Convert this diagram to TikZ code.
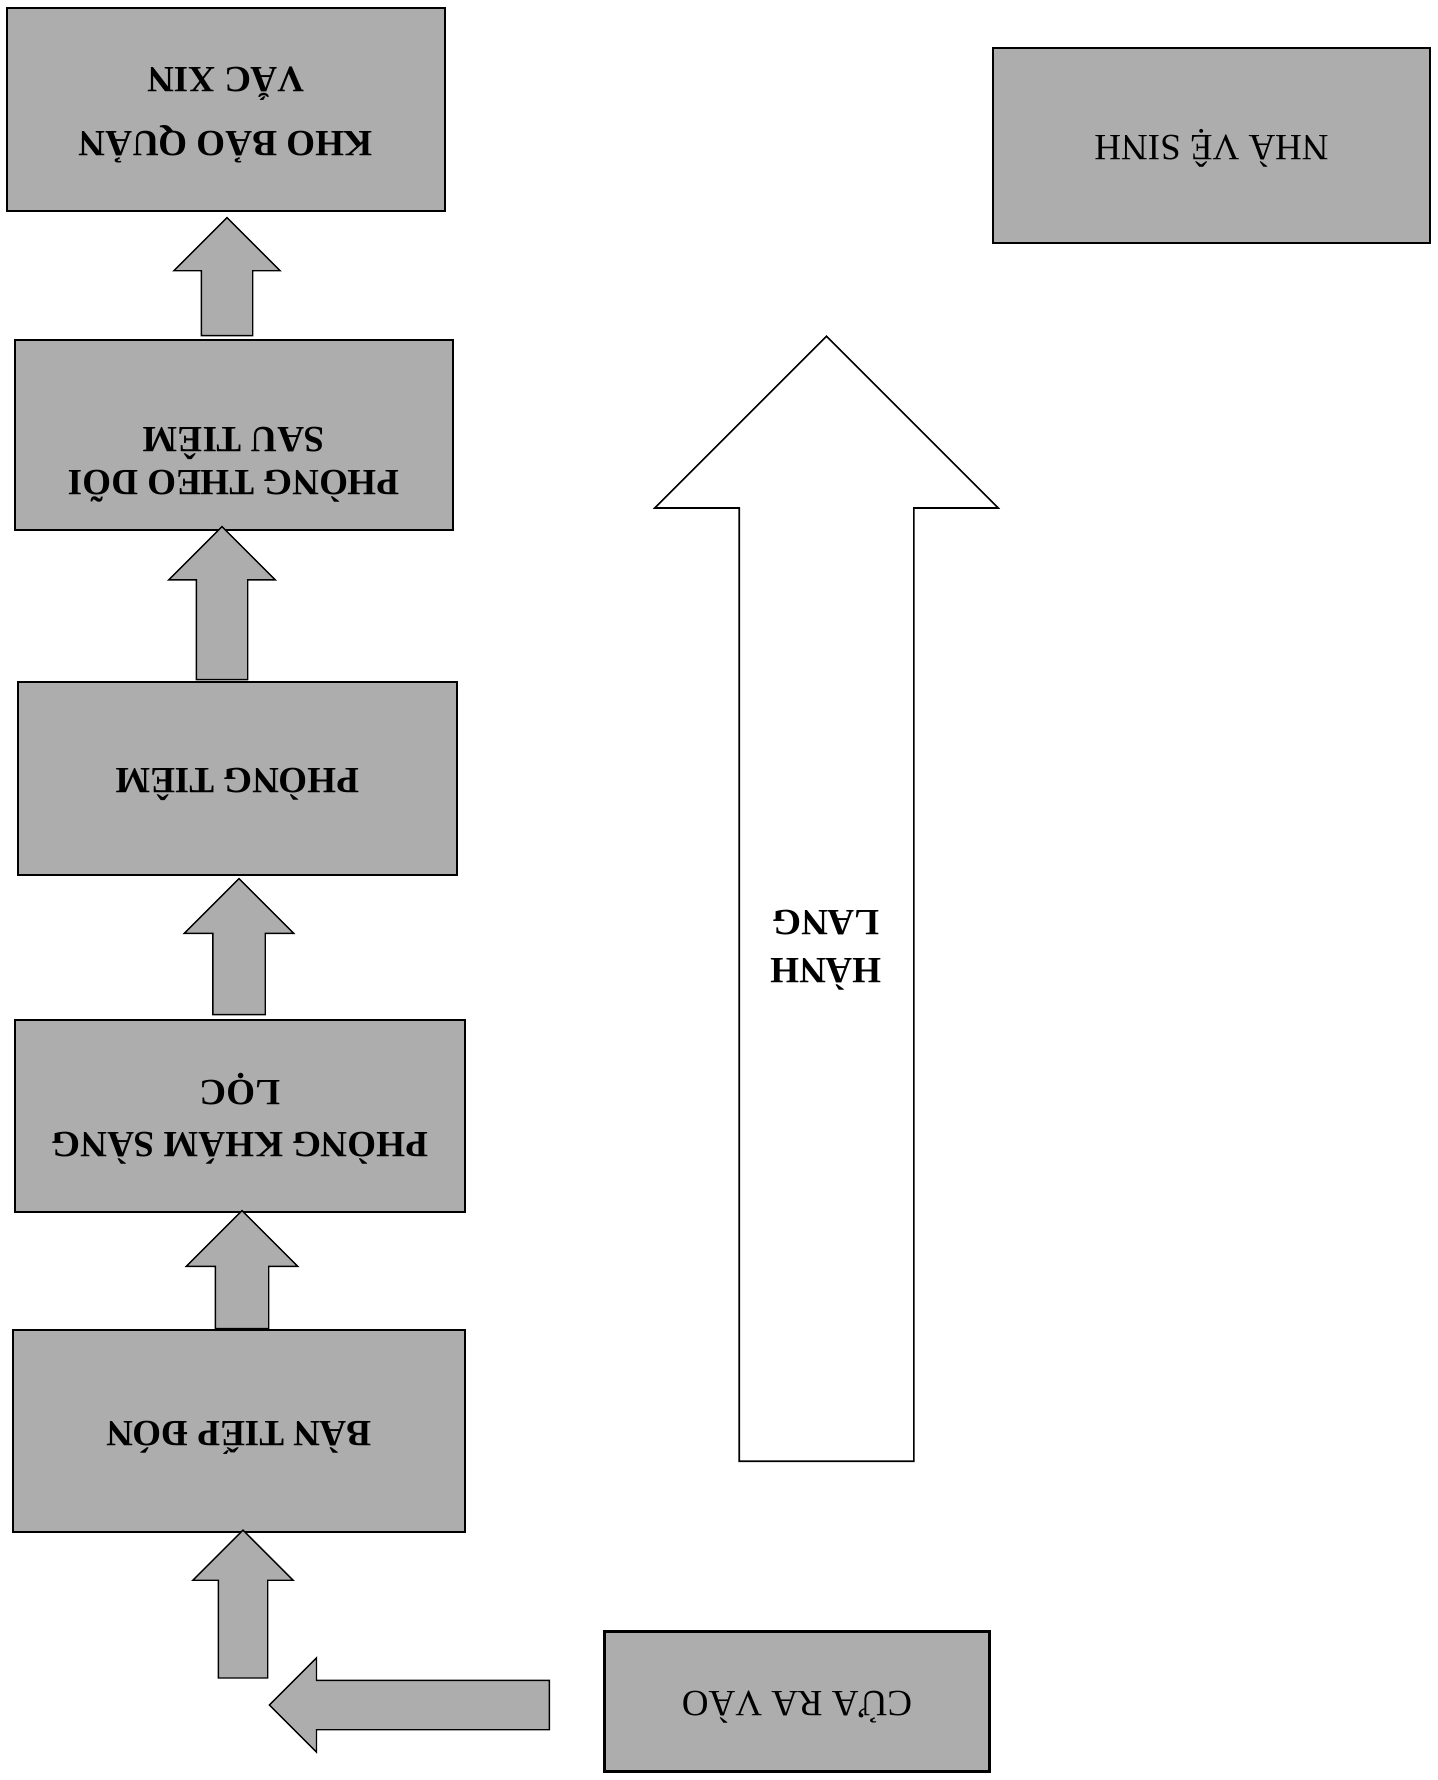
\documentclass[tikz,border=0pt]{standalone}
\usepackage{fontspec}
\setmainfont{Liberation Serif}
\usepackage{tikz}
\usetikzlibrary{shapes.arrows,calc}

% the whole plan is printed upside down
\newcommand{\flip}[1]{\rotatebox{180}{\begin{tabular}{@{}c@{}}#1\end{tabular}}}

\tikzset{
    room/.style={draw, line width=0.7pt, fill=black!32, inner sep=0pt,
        font=\bfseries\fontsize{18.5}{24}\selectfont},
    flow/.style={single arrow, draw, line width=0.7pt, fill=black!32, inner xsep=0pt,
        single arrow tip angle=90, anchor=tail},
}

\begin{document}
\begin{tikzpicture}[x=0.5pt, y=-0.5pt]
    \useasboundingbox (0,0) rectangle (1437,1780);

    % First, locate each of the rooms and name them
    \node [room, minimum width=219pt, minimum height=101.5pt] (kho) at (226,109.5)
        {\flip{KHO BẢO QUẢN\\[8pt] VẮC XIN}};
    \node [room, minimum width=219pt, minimum height=95pt] (theodoi) at (234,435)
        {\flip{PHÒNG THEO DÕI\\[-2.5pt] SAU TIÊM\\ ~}};
    \node [room, minimum width=219.5pt, minimum height=96.5pt] (tiem) at (237.5,778.5)
        {\flip{PHÒNG TIÊM}};
    \node [room, minimum width=225pt, minimum height=96pt] (khamsang) at (240,1116)
        {\flip{PHÒNG KHÁM SÀNG\\[2pt] LỌC}};
    \node [room, minimum width=226pt, minimum height=101pt] (tiepdon) at (239,1431)
        {\flip{BÀN TIẾP ĐÓN}};
    \node [room, font=\fontsize{18.5}{24}\selectfont, minimum width=218.5pt, minimum height=97.5pt] (vesinh) at (1211.5,145.5)
        {\flip{NHÀ VỆ SINH}};
    \node [room, line width=1.5pt, font=\fontsize{18.5}{24}\selectfont, minimum width=192.5pt, minimum height=70pt] (cuara) at (797,1701)
        {\flip{CỬA RA VÀO}};

    % Now the arrows between the rooms, each one set by its tail
    \node [flow, rotate=180, minimum height=140pt, minimum width=46.5pt, inner ysep=12pt,
        single arrow head extend=11.25pt] (a6) at ($(cuara.west)+(-53,4)$) {};
    \node [flow, rotate=90, minimum height=74pt, minimum width=49.5pt, inner ysep=12pt,
        single arrow head extend=12.75pt] (a5) at ($(tiepdon.south)+(4,146)$) {};
    \node [flow, rotate=90, minimum height=59pt, minimum width=55pt, inner ysep=13pt,
        single arrow head extend=14.5pt] (a4) at ($(tiepdon.north)+(3,0)$) {};
    \node [flow, rotate=90, minimum height=68pt, minimum width=54pt, inner ysep=12.75pt,
        single arrow head extend=14.25pt] (a3) at ($(khamsang.north)+(-1,-4)$) {};
    \node [flow, rotate=90, minimum height=76.5pt, minimum width=52.5pt, inner ysep=12.5pt,
        single arrow head extend=13.75pt] (a2) at ($(tiem.north)+(-15.5,-1)$) {};
    \node [flow, rotate=90, minimum height=59pt, minimum width=52.5pt, inner ysep=12.5pt,
        single arrow head extend=13.75pt] (a1) at ($(theodoi.north)+(-7,-3)$) {};

    % the corridor
    \node [single arrow, draw, line width=0.8pt, fill=white, inner xsep=0pt, inner ysep=43.25pt, rotate=90,
        minimum height=562.5pt, minimum width=171pt, single arrow head extend=42.25pt,
        single arrow tip angle=90, anchor=tail] (hall) at (826.5,1462) {};
    \node [font=\bfseries\fontsize{18.5}{24}\selectfont] (hanhlang) at (826,944) {\flip{HÀNH\\ LANG}};
\end{tikzpicture}
\end{document}
